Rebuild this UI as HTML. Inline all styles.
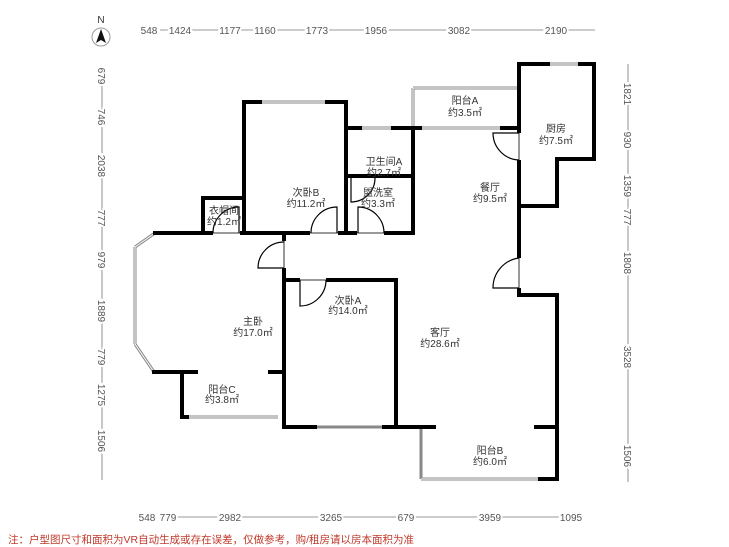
<!DOCTYPE html>
<html><head><meta charset="utf-8"><style>
html,body{margin:0;padding:0;background:#fff;}
svg{display:block;}
text{font-family:"Liberation Sans","Noto Sans CJK SC",sans-serif;}
.l{font-size:10px;fill:#333;text-anchor:middle;}
.d{font-size:10px;fill:#555;text-anchor:middle;paint-order:stroke;stroke:#fff;stroke-width:4px;}
</style></head><body>
<svg width="729" height="547" viewBox="0 0 729 547" xmlns="http://www.w3.org/2000/svg">
<rect width="729" height="547" fill="#fff"/>
<!-- compass -->
<circle cx="101" cy="37" r="9" fill="none" stroke="#999" stroke-width="1"/>
<path d="M101 29 L106 43 L101 40 L96 43 Z" fill="#111"/>
<text x="101" y="23" class="l" font-size="9">N</text>

<!-- dimension lines -->
<g stroke="#777" stroke-width="0.8" fill="none">
<line x1="160" y1="30" x2="595" y2="30"/>
<line x1="160" y1="517" x2="580" y2="517"/>
<line x1="102" y1="68" x2="102" y2="480"/>
<line x1="628" y1="64" x2="628" y2="482"/>
</g>
<g class="d">
<text x="149" y="34">548</text><text x="180" y="34">1424</text><text x="230" y="34">1177</text><text x="265" y="34">1160</text><text x="317" y="34">1773</text><text x="376" y="34">1956</text><text x="459" y="34">3082</text><text x="556" y="34">2190</text>
<text x="147" y="521">548</text><text x="168" y="521">779</text><text x="230" y="521">2982</text><text x="331" y="521">3265</text><text x="406" y="521">679</text><text x="490" y="521">3959</text><text x="571" y="521">1095</text>
</g>
<g class="d">
<text transform="translate(98,76) rotate(90)">679</text>
<text transform="translate(98,117) rotate(90)">746</text>
<text transform="translate(98,166) rotate(90)">2038</text>
<text transform="translate(98,218) rotate(90)">777</text>
<text transform="translate(98,260) rotate(90)">979</text>
<text transform="translate(98,311) rotate(90)">1889</text>
<text transform="translate(98,357) rotate(90)">779</text>
<text transform="translate(98,395) rotate(90)">1275</text>
<text transform="translate(98,441) rotate(90)">1506</text>
<text transform="translate(624,94) rotate(90)">1821</text>
<text transform="translate(624,140) rotate(90)">930</text>
<text transform="translate(624,186) rotate(90)">1359</text>
<text transform="translate(624,217) rotate(90)">777</text>
<text transform="translate(624,263) rotate(90)">1808</text>
<text transform="translate(624,357) rotate(90)">3528</text>
<text transform="translate(624,456) rotate(90)">1506</text>
</g>

<!-- windows (thin double) -->
<g stroke="#888" stroke-width="3" fill="none">
<line x1="260" y1="102" x2="327" y2="102"/>
<line x1="360" y1="128" x2="393" y2="128"/>
<line x1="413" y1="88" x2="519" y2="88"/>
<line x1="413" y1="88" x2="413" y2="128"/>
<line x1="420" y1="128" x2="502" y2="128"/>
<line x1="548" y1="64" x2="580" y2="64"/>
<path d="M155 233 L135 247"/>
<line x1="135" y1="247" x2="135" y2="344"/>
<path d="M135 344 L154 372"/>
<line x1="187" y1="417" x2="278" y2="417"/>
<line x1="315" y1="427" x2="384" y2="427"/>
<line x1="421" y1="427" x2="421" y2="479"/>
<line x1="421" y1="479" x2="540" y2="479"/>
</g>
<g stroke="#fff" stroke-width="1" fill="none">
<line x1="260" y1="102" x2="327" y2="102"/>
<line x1="360" y1="128" x2="393" y2="128"/>
<line x1="413" y1="88" x2="519" y2="88"/>
<line x1="413" y1="88" x2="413" y2="128"/>
<line x1="420" y1="128" x2="502" y2="128"/>
<line x1="548" y1="64" x2="580" y2="64"/>
<path d="M155 233 L135 247"/>
<line x1="135" y1="247" x2="135" y2="344"/>
<path d="M135 344 L154 372"/>
<line x1="187" y1="417" x2="278" y2="417"/>
<line x1="421" y1="479" x2="540" y2="479"/>
</g>

<!-- walls -->
<g stroke="#000" stroke-width="4" fill="none" stroke-linecap="square">
<polyline points="244,233 244,102 260,102"/>
<polyline points="327,102 346,102 346,233"/>
<line x1="346" y1="128" x2="360" y2="128"/>
<polyline points="393,128 413,128 413,233"/>
<line x1="346" y1="176" x2="413" y2="176"/>
<polyline points="203,233 203,198 244,198"/>
<line x1="155" y1="233" x2="413" y2="233"/>
<line x1="413" y1="128" x2="420" y2="128"/>
<line x1="502" y1="128" x2="519" y2="128"/>
<polyline points="519,295 519,64 548,64"/>
<polyline points="580,64 594,64 594,159 557,159 557,206 519,206"/>
<polyline points="519,295 557,295 557,479 540,479"/>
<line x1="536" y1="427" x2="557" y2="427"/>
<line x1="284" y1="233" x2="284" y2="427"/>
<polyline points="284,280 396,280 396,427"/>
<line x1="284" y1="427" x2="315" y2="427"/>
<line x1="384" y1="427" x2="434" y2="427"/>
<line x1="154" y1="372" x2="196" y2="372"/>
<polyline points="182,372 182,417 187,417"/>
<line x1="270" y1="372" x2="284" y2="372"/>
</g>
<!-- door openings (white over walls) and doors -->
<g stroke="#fff" stroke-width="5">
<line x1="310" y1="233" x2="338" y2="233"/>
<line x1="357" y1="233" x2="384" y2="233"/>
<line x1="213" y1="233" x2="240" y2="233"/>
<line x1="284" y1="241" x2="284" y2="268"/>
<line x1="300" y1="280" x2="326" y2="280"/>
<line x1="519" y1="133" x2="519" y2="160"/>
<line x1="519" y1="258" x2="519" y2="288"/>
</g>
<g stroke="#999" stroke-width="2">
<line x1="310" y1="233" x2="338" y2="233"/>
<line x1="357" y1="233" x2="384" y2="233"/>
<line x1="213" y1="233" x2="240" y2="233"/>
<line x1="284" y1="241" x2="284" y2="268"/>
<line x1="300" y1="280" x2="326" y2="280"/>
<line x1="519" y1="133" x2="519" y2="160"/>
<line x1="519" y1="258" x2="519" y2="288"/>
</g>
<g stroke="#000" stroke-width="1.2" fill="none">
<path d="M337 233 L337 207 A26 26 0 0 0 311 233"/>
<path d="M358 233 L358 207 A26 26 0 0 1 384 233"/>
<path d="M239 233 L239 207 A26 26 0 0 0 213 233"/>
<path d="M284 268 L258 268 A26 26 0 0 1 284 242"/>
<path d="M300 280 L300 306 A26 26 0 0 0 326 280"/>
<path d="M351 178 L351 202 A24 24 0 0 0 375 178"/>
<path d="M519 133 L493 133 A27 27 0 0 0 519 160"/>
<path d="M519 288 L493 288 A30 30 0 0 1 519 258"/>
</g>

<!-- labels -->
<g class="l">
<text x="465" y="104">阳台A</text><text x="465" y="116">约3.5㎡</text>
<text x="556" y="132">厨房</text><text x="556" y="144">约7.5㎡</text>
<text x="384" y="165">卫生间A</text><text x="384" y="176">约2.7㎡</text>
<text x="378" y="196">盥洗室</text><text x="378" y="207">约3.3㎡</text>
<text x="306" y="196">次卧B</text><text x="306" y="207">约11.2㎡</text>
<text x="224" y="214">衣帽间</text><text x="224" y="225">约1.2㎡</text>
<text x="490" y="191">餐厅</text><text x="490" y="202">约9.5㎡</text>
<text x="253" y="325">主卧</text><text x="253" y="336">约17.0㎡</text>
<text x="348" y="304">次卧A</text><text x="348" y="314">约14.0㎡</text>
<text x="440" y="336">客厅</text><text x="440" y="347">约28.6㎡</text>
<text x="222" y="393">阳台C</text><text x="222" y="403">约3.8㎡</text>
<text x="490" y="454">阳台B</text><text x="490" y="465">约6.0㎡</text>
</g>
<text x="8" y="543" font-size="10.5" fill="#c0392b">注：户型图尺寸和面积为VR自动生成或存在误差，仅做参考，购/租房请以房本面积为准</text>
</svg>
</body></html>
